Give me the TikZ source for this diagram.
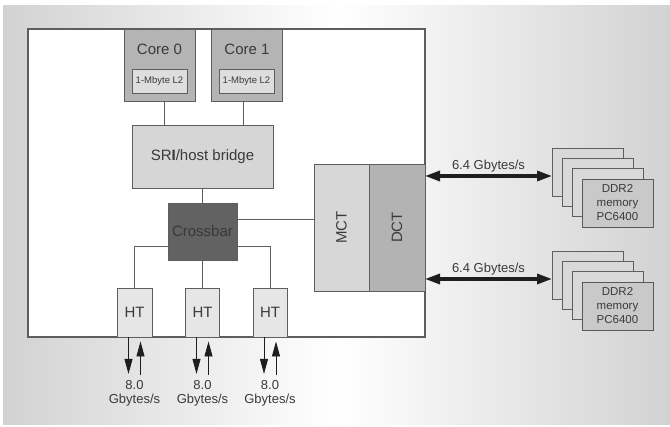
\documentclass[tikz,border=0pt]{standalone}
\usepackage{fontspec}
\setmainfont{Liberation Sans}
\usetikzlibrary{arrows.meta,positioning}

\definecolor{txt}{HTML}{3A3A3A}
\definecolor{edge}{HTML}{5E5E5E}
\definecolor{bgside}{HTML}{D2D2D2}
\definecolor{corefill}{HTML}{B4B4B4}
\definecolor{l2fill}{HTML}{DEDEDE}
\definecolor{bridgefill}{HTML}{D6D6D6}
\definecolor{xbarfill}{HTML}{626262}
\definecolor{xbartxt}{HTML}{383838}
\definecolor{htfill}{HTML}{E6E6E6}
\definecolor{mctfill}{HTML}{D7D7D7}
\definecolor{dctfill}{HTML}{B3B3B3}
\definecolor{memback}{HTML}{D9D9D9}
\definecolor{memfront}{HTML}{C9C9C9}
\definecolor{arrowc}{HTML}{1E1E1E}

\begin{document}
\begin{tikzpicture}[x=1pt,y=-1pt,
    box/.style={draw=edge,line width=0.9pt,inner sep=0pt,outer sep=0pt,align=center,
                text=txt,font=\fontsize{15}{17}\selectfont},
    small/.style={font=\fontsize{9.5}{11}\selectfont},
    membox/.style={box,fill=memback,minimum width=71pt,minimum height=48pt,
                   font=\fontsize{11.5}{14}\selectfont},
    rate/.style={text=txt,align=center,inner sep=0pt,font=\fontsize{13}{14}\selectfont},
    wire/.style={draw=edge,line width=0.9pt},
    htarrow/.style={arrowc,line width=0.9pt,-{Triangle[length=15pt,width=8pt]}},
    memarrow/.style={arrowc,line width=3.2pt,
                     {Triangle[length=15pt,width=10pt]}-{Triangle[length=15pt,width=10pt]}},
  ]
    \useasboundingbox (0,0) rectangle (670,427);
    \fill[white] (0,0) rectangle (670,427);
    \shade[left color=bgside,right color=bgside,middle color=white] (3,6) rectangle (670,425);

    \node[box,fill=white,line width=1.2pt,minimum width=397pt,minimum height=308pt,
          anchor=north west] (chip) at (28,29) {};

    \node[box,fill=corefill,minimum width=71pt,minimum height=72pt,anchor=north] (core0) at (159.5,29) {};
    \node[box,fill=corefill,minimum width=71pt,minimum height=72pt,anchor=north] (core1) at (247,29) {};
    \node[text=txt,font=\fontsize{15}{17}\selectfont] (core0lbl) at (159.5,49) {Core 0};
    \node[text=txt,font=\fontsize{15}{17}\selectfont] (core1lbl) at (247,49) {Core 1};
    \node[box,small,fill=l2fill,minimum width=55pt,minimum height=24pt] (l2a) at (159.5,81) {1-Mbyte L2};
    \node[box,small,fill=l2fill,minimum width=55pt,minimum height=24pt] (l2b) at (246.5,81) {1-Mbyte L2};

    \node[box,fill=bridgefill,minimum width=141pt,minimum height=63pt] (bridge) at (202.5,156.5)
      {SR\textbf{I}/host bridge};
    \node[box,fill=xbarfill,text=xbartxt,minimum width=69pt,minimum height=57pt] (xbar) at (202.5,231.5)
      {Crossbar};

    \node[box,fill=htfill,minimum width=35pt,minimum height=49pt,anchor=south] (ht1) at (134.5,337) {HT};
    \node[box,fill=htfill,minimum width=34pt,minimum height=49pt,anchor=south] (ht2) at (202.5,337) {HT};
    \node[box,fill=htfill,minimum width=34pt,minimum height=49pt,anchor=south] (ht3) at (270,337) {HT};

    \node[box,fill=mctfill,minimum width=55pt,minimum height=127pt,anchor=north west] (mct) at (314,164)
      {\rotatebox{90}{MCT}};
    \node[box,fill=dctfill,minimum width=56pt,minimum height=127pt,right=0pt of mct] (dct)
      {\rotatebox{90}{DCT}};

    \foreach \i in {0,1,2} {
      \node[membox] (mema\i) at ({587.5+10*\i},{172+10.3*\i}) {};
      \node[membox] (memb\i) at ({587.5+10*\i},{275+10.3*\i}) {};
    }
    \node[membox,fill=memfront,draw=black!65] (mema3) at (617.5,203) {DDR2\\memory\\PC6400};
    \node[membox,fill=memfront,draw=black!65] (memb3) at (617.5,306) {DDR2\\memory\\PC6400};

    \node[rate] (rate1) at (134.5,393) {8.0\\Gbytes/s};
    \node[rate] (rate2) at (202.5,393) {8.0\\Gbytes/s};
    \node[rate] (rate3) at (270,393) {8.0\\Gbytes/s};

    \draw[wire] ([xshift=4.5pt]core0.south) -- ([xshift=4.5pt]core0.south |- bridge.north);
    \draw[wire] ([xshift=-4pt]core1.south) -- ([xshift=-4pt]core1.south |- bridge.north);
    \draw[wire] (bridge) -- (xbar);
    \draw[wire] ([yshift=12.5pt]xbar.east) -- ([yshift=12.5pt]xbar.east -| mct.west);
    \draw[wire] ([yshift=-14.5pt]xbar.west) -| (ht1.north);
    \draw[wire] (xbar) -- (ht2);
    \draw[wire] ([yshift=-14.5pt]xbar.east) -| (ht3.north);

    \foreach \n in {1,2,3} {
      \draw[htarrow,shorten >=6pt] ([xshift=-6pt]ht\n.south) -- ([xshift=-6pt]ht\n.south |- rate\n.north);
      \draw[htarrow,shorten <=5pt,shorten >=4.5pt] ([xshift=6pt]ht\n.south |- rate\n.north) -- ([xshift=6pt]ht\n.south);
    }

    \draw[memarrow] ([yshift=-4pt]mema0.west -| dct.east) -- ([yshift=-4pt]mema0.west)
      node[midway,above,rate,inner sep=2pt] (bwa) {6.4 Gbytes/s};
    \draw[memarrow] ([yshift=-4pt]memb0.west -| dct.east) -- ([yshift=-4pt]memb0.west)
      node[midway,above,rate,inner sep=2pt] (bwb) {6.4 Gbytes/s};
\end{tikzpicture}
\end{document}
